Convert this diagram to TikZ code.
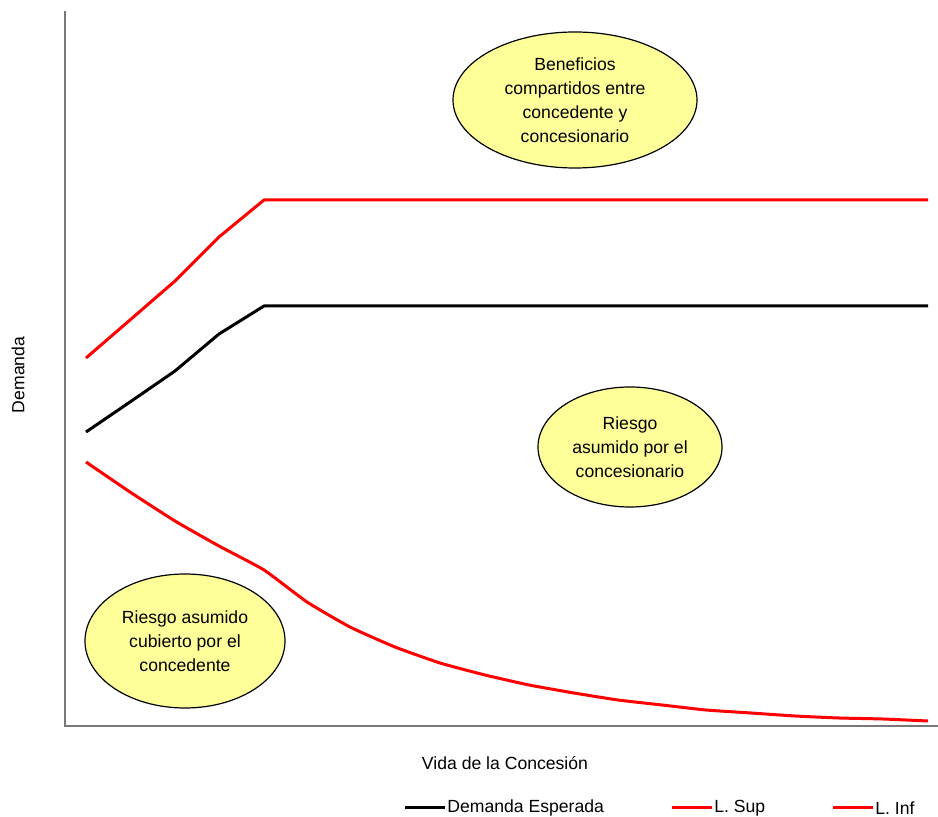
\documentclass[tikz,border=0pt]{standalone}
\usepackage{fontspec}
\setmainfont{Liberation Sans}
\usepackage{tikz}
\usetikzlibrary{shapes.geometric}
\definecolor{amarillo}{RGB}{255,255,153}
\definecolor{eje}{RGB}{120,120,120}
\begin{document}
\begin{tikzpicture}[x=0.5pt,y=-0.5pt,
		burbuja/.style={ellipse,draw=black,line width=0.6pt,fill=amarillo,inner sep=0pt,align=center,font=\fontsize{8.8}{12}\selectfont},
		serie/.style={line width=1.5pt,line join=round},
		rotulo/.style={font=\fontsize{8.8}{10}\selectfont,inner sep=1pt}]
	\useasboundingbox (0,0) rectangle (938,817);
	
	% ejes
	\coordinate (O) at (65,726);
	\coordinate (Ytop) at (65,11);
	\coordinate (Xend) at (938,726);
	\draw[eje,line width=0.9pt] (Ytop)--(O)--(Xend);
	
	% demanda esperada
	\foreach \name/\x/\y in
	{d1/86/432, d2/130/402, d3/175/371, d4/219/334, d5/264/306, d6/928/306}{
		\coordinate (\name) at (\x,\y);
	}
	\draw[serie,black] (d1)--(d2)--(d3)--(d4)--(d5)--(d6);
	
	% limite superior
	\foreach \name/\x/\y in
	{s1/86/358, s2/130/320, s3/175/281, s4/219/237, s5/264/200, s6/928/200}{
		\coordinate (\name) at (\x,\y);
	}
	\draw[serie,red] (s1)--(s2)--(s3)--(s4)--(s5)--(s6);
	
	% limite inferior
	\foreach \name/\x/\y in
	{i1/86/462, i2/130/492, i3/175/521, i4/219/546, i5/264/570, i6/307/602, i7/350/627,
		i8/395/647, i9/440/663, i10/485/675, i11/529/685, i12/574/693, i13/618/700,
		i14/662/705, i15/706/710, i16/751/713, i17/795/716, i18/839/718, i19/883/719, i20/928/721}{
		\coordinate (\name) at (\x,\y);
	}
	\draw[serie,red] plot[smooth,tension=0.3] coordinates {(i1) (i2) (i3) (i4) (i5) (i6) (i7) (i8) (i9) (i10) (i11) (i12) (i13) (i14) (i15) (i16) (i17) (i18) (i19) (i20)};
	
	% globos
	\node[burbuja,minimum width=122pt,minimum height=68pt] (benef) at (575,100)
		{Beneficios\\compartidos entre\\concedente y\\concesionario};
	\node[burbuja,minimum width=92pt,minimum height=60pt] (concesionario) at (630,447)
		{Riesgo\\asumido por el\\concesionario};
	\node[burbuja,minimum width=100pt,minimum height=67pt] (concedente) at (185,641)
		{Riesgo asumido\\cubierto por el\\concedente};
	
	% rotulos de los ejes
	\node[rotulo,rotate=90] (ylab) at (18,375) {Demanda};
	\node[rotulo] (xlab) at (505,763) {Vida de la Concesión};
	
	% leyenda
	\foreach \name/\a/\b/\col/\texto in
	{esp/405/445/black/Demanda Esperada, sup/672/712/red/L. Sup, inf/833/873/red/L. Inf}{
		\coordinate (\name a) at (\a,808);
		\coordinate (\name b) at (\b,808);
		\draw[serie,\col] (\name a)--(\name b);
		\node[rotulo,anchor=west] (\name t) at (\name b) {\texto};
	}
\end{tikzpicture}
\end{document}
